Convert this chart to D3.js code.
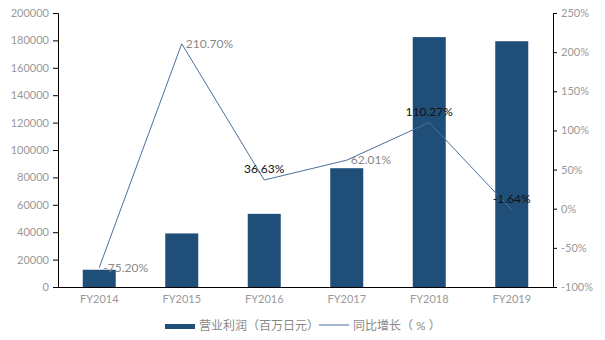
<!DOCTYPE html>
<html>
<head>
<meta charset="utf-8">
<script src="https://cdnjs.cloudflare.com/ajax/libs/d3/7.8.5/d3.min.js"></script>
<style>
body{margin:0;background:#fff;}
text{font-family:Lato,"Noto Sans CJK SC",sans-serif;}
</style>
</head>
<body>
<div id="chart"></div>
<script>
// data
var years=['FY2014','FY2015','FY2016','FY2017','FY2018','FY2019'];
var profit=[12600,39100,53400,86700,182400,179400];
var growth=[-75.20,210.70,36.63,62.01,110.27,-1.64];
var leftTicks=[0,20000,40000,60000,80000,100000,120000,140000,160000,180000,200000];
var rightTicks=[-100,-50,0,50,100,150,200,250];
var legendNames=['营业利润（百万日元）','同比增长（ % ）'];

var W=605,H=340;
var m={l:58,r:52,t:13,b:53};
var barColor='#1f4e79',lineColor='#4a6f9a',grey='#999';
// labels sitting on a bar are drawn dark and centred above the point
var onBar=[false,false,true,false,true,true];

var svg=d3.select('#chart').append('svg').attr('width',W).attr('height',H);

var x=d3.scaleBand().domain(years).range([m.l,W-m.r]).paddingInner(0.6).paddingOuter(0.3);
var yL=d3.scaleLinear().domain([0,200000]).range([H-m.b,m.t]);
var yR=d3.scaleLinear().domain([-100,250]).range([H-m.b,m.t]);

// bars
svg.selectAll('rect.bar').data(profit).enter().append('rect')
	.attr('class','bar')
	.attr('x',function(d,i){return x(years[i]);})
	.attr('y',function(d){return yL(d);})
	.attr('width',x.bandwidth())
	.attr('height',function(d){return yL(0)-yL(d);})
	.attr('fill',barColor);

// axes
var axL=svg.append('g').attr('transform','translate('+m.l+',0)')
	.call(d3.axisLeft(yL).tickValues(leftTicks).tickFormat(d3.format('d')).tickSize(5).tickPadding(4));
var axR=svg.append('g').attr('transform','translate('+(W-m.r)+',0)')
	.call(d3.axisRight(yR).tickValues(rightTicks).tickFormat(function(d){return d+'%';}).tickSize(4).tickPadding(4));
var axB=svg.append('g').attr('transform','translate(0,'+(H-m.b)+')')
	.call(d3.axisBottom(x).tickSize(0).tickPadding(8));

[axL,axR,axB].forEach(function(g){
	g.select('.domain').attr('stroke','#000');
	g.selectAll('.tick line').attr('stroke','#000');
	g.selectAll('text').attr('fill',grey).style('font-size','11px').style('font-family','Lato,sans-serif');
});

// line
var cx=function(i){return x(years[i])+x.bandwidth()/2;};
var line=d3.line().x(function(d,i){return cx(i);}).y(function(d){return yR(d);});
svg.append('path').datum(growth).attr('d',line)
	.attr('fill','none').attr('stroke',lineColor).attr('stroke-width',1);

// value labels
svg.selectAll('text.lab').data(growth).enter().append('text')
	.attr('class','lab')
	.attr('x',function(d,i){return onBar[i]?cx(i):cx(i)+4;})
	.attr('y',function(d,i){return onBar[i]?yR(d)-11:yR(d);})
	.attr('dy','0.35em')
	.attr('text-anchor',function(d,i){return onBar[i]?'middle':'start';})
	.attr('fill',function(d,i){return onBar[i]?'#111':'#888';})
	.style('font-size','12px')
	.text(function(d){return d.toFixed(2)+'%';});

// legend
var lg=svg.append('g').attr('transform','translate(0,326)');
lg.append('rect').attr('x',165).attr('y',-2).attr('width',30).attr('height',5).attr('fill',barColor);
lg.append('text').attr('x',199).attr('y',0).attr('dy','0.35em').attr('fill','#888')
	.style('font-size','12px').text(legendNames[0]);
lg.append('line').attr('x1',319).attr('x2',349).attr('y1',-1).attr('y2',-1)
	.attr('stroke',lineColor).attr('stroke-width',1);
lg.append('text').attr('x',353).attr('y',0).attr('dy','0.35em').attr('fill','#888')
	.style('font-size','12px').text(legendNames[1]);
</script>
</body>
</html>
